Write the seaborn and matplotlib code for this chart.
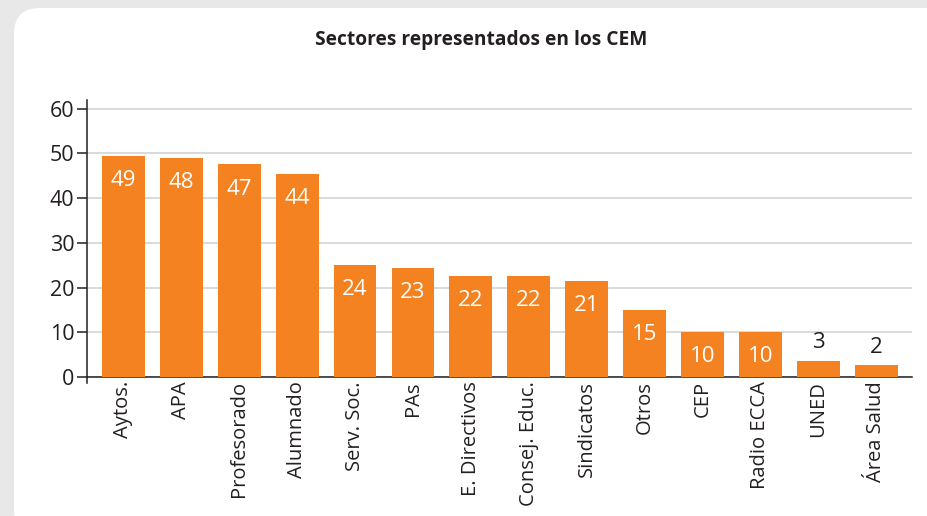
import matplotlib
matplotlib.use("Agg")
import matplotlib.pyplot as plt
from matplotlib.patches import FancyBboxPatch
import seaborn as sns

# Data
categories = ["Aytos.", "APA", "Profesorado", "Alumnado", "Serv. Soc.", "PAs",
              "E. Directivos", "Consej. Educ.", "Sindicatos", "Otros", "CEP",
              "Radio ECCA", "UNED", "Área Salud"]
bar_heights = [49.3, 48.9, 47.5, 45.3, 25.0, 24.3, 22.5, 22.5, 21.4, 14.9,
               10.0, 10.0, 3.5, 2.6]
bar_labels = [49, 48, 47, 44, 24, 23, 22, 22, 21, 15, 10, 10, 3, 2]
y_ticks = [0, 10, 20, 30, 40, 50, 60]

ORANGE = "#F58220"
DARK = "#231F20"
GRID = "#D9D9D9"

sns.set_style("white")
plt.rcParams["font.family"] = ["Open Sans", "DejaVu Sans"]

fig = plt.figure(figsize=(9.28, 5.16), dpi=100)
fig.patch.set_facecolor("#E8E8E8")

# White rounded panel
panel = FancyBboxPatch((14 / 928, -20 / 516), 960 / 928, 508 / 516 + 20 / 516,
                       boxstyle="round,pad=0,rounding_size=0.028",
                       transform=fig.transFigure, facecolor="white",
                       edgecolor="none", mutation_aspect=928 / 516, zorder=-10)
fig.patches.append(panel)

ax = fig.add_axes([87 / 928, (516 - 377) / 516, (912 - 87) / 928, (377 - 100) / 516])
ax.set_facecolor("none")

sns.barplot(x=categories, y=bar_heights, color=ORANGE, width=0.74,
            saturation=1, linewidth=0, ax=ax, zorder=3)

ax.set_xlim(-0.63, len(categories) - 0.38)
ax.set_ylim(0, 61.9)
ax.set_yticks(y_ticks)
ax.yaxis.grid(True, color=GRID, lw=1.4, zorder=0)
ax.set_axisbelow(True)

for s in ["top", "right"]:
    ax.spines[s].set_visible(False)
ax.spines["left"].set_color(DARK)
ax.spines["bottom"].set_color(DARK)
ax.spines["left"].set_linewidth(1.1)
ax.spines["bottom"].set_linewidth(1.1)
ax.spines["left"].set_bounds(-1.4, 61.9)

ax.tick_params(axis="y", direction="out", length=7, width=1.1, color=DARK,
               labelsize=15.5, labelcolor=DARK, left=True, pad=2)
ax.tick_params(axis="x", length=0, labelsize=14.5, labelcolor=DARK, pad=3)
plt.setp(ax.get_xticklabels(), rotation=90, ha="center", va="top")
ax.set_xlabel("")
ax.set_ylabel("")

for i, (h, lab) in enumerate(zip(bar_heights, bar_labels)):
    if h > 8:
        ax.text(i, h - 5.5, str(lab), ha="center", va="center",
                color="white", fontsize=16, zorder=4)
    else:
        ax.text(i, h + 4.1, str(lab), ha="center", va="center",
                color=DARK, fontsize=16, zorder=4)

fig.text(481 / 928, (516 - 40) / 516, "Sectores representados en los CEM",
         ha="center", va="center", fontsize=13.8, fontweight="bold", color=DARK)

fig.savefig("out.png", dpi=100, facecolor=fig.get_facecolor())
